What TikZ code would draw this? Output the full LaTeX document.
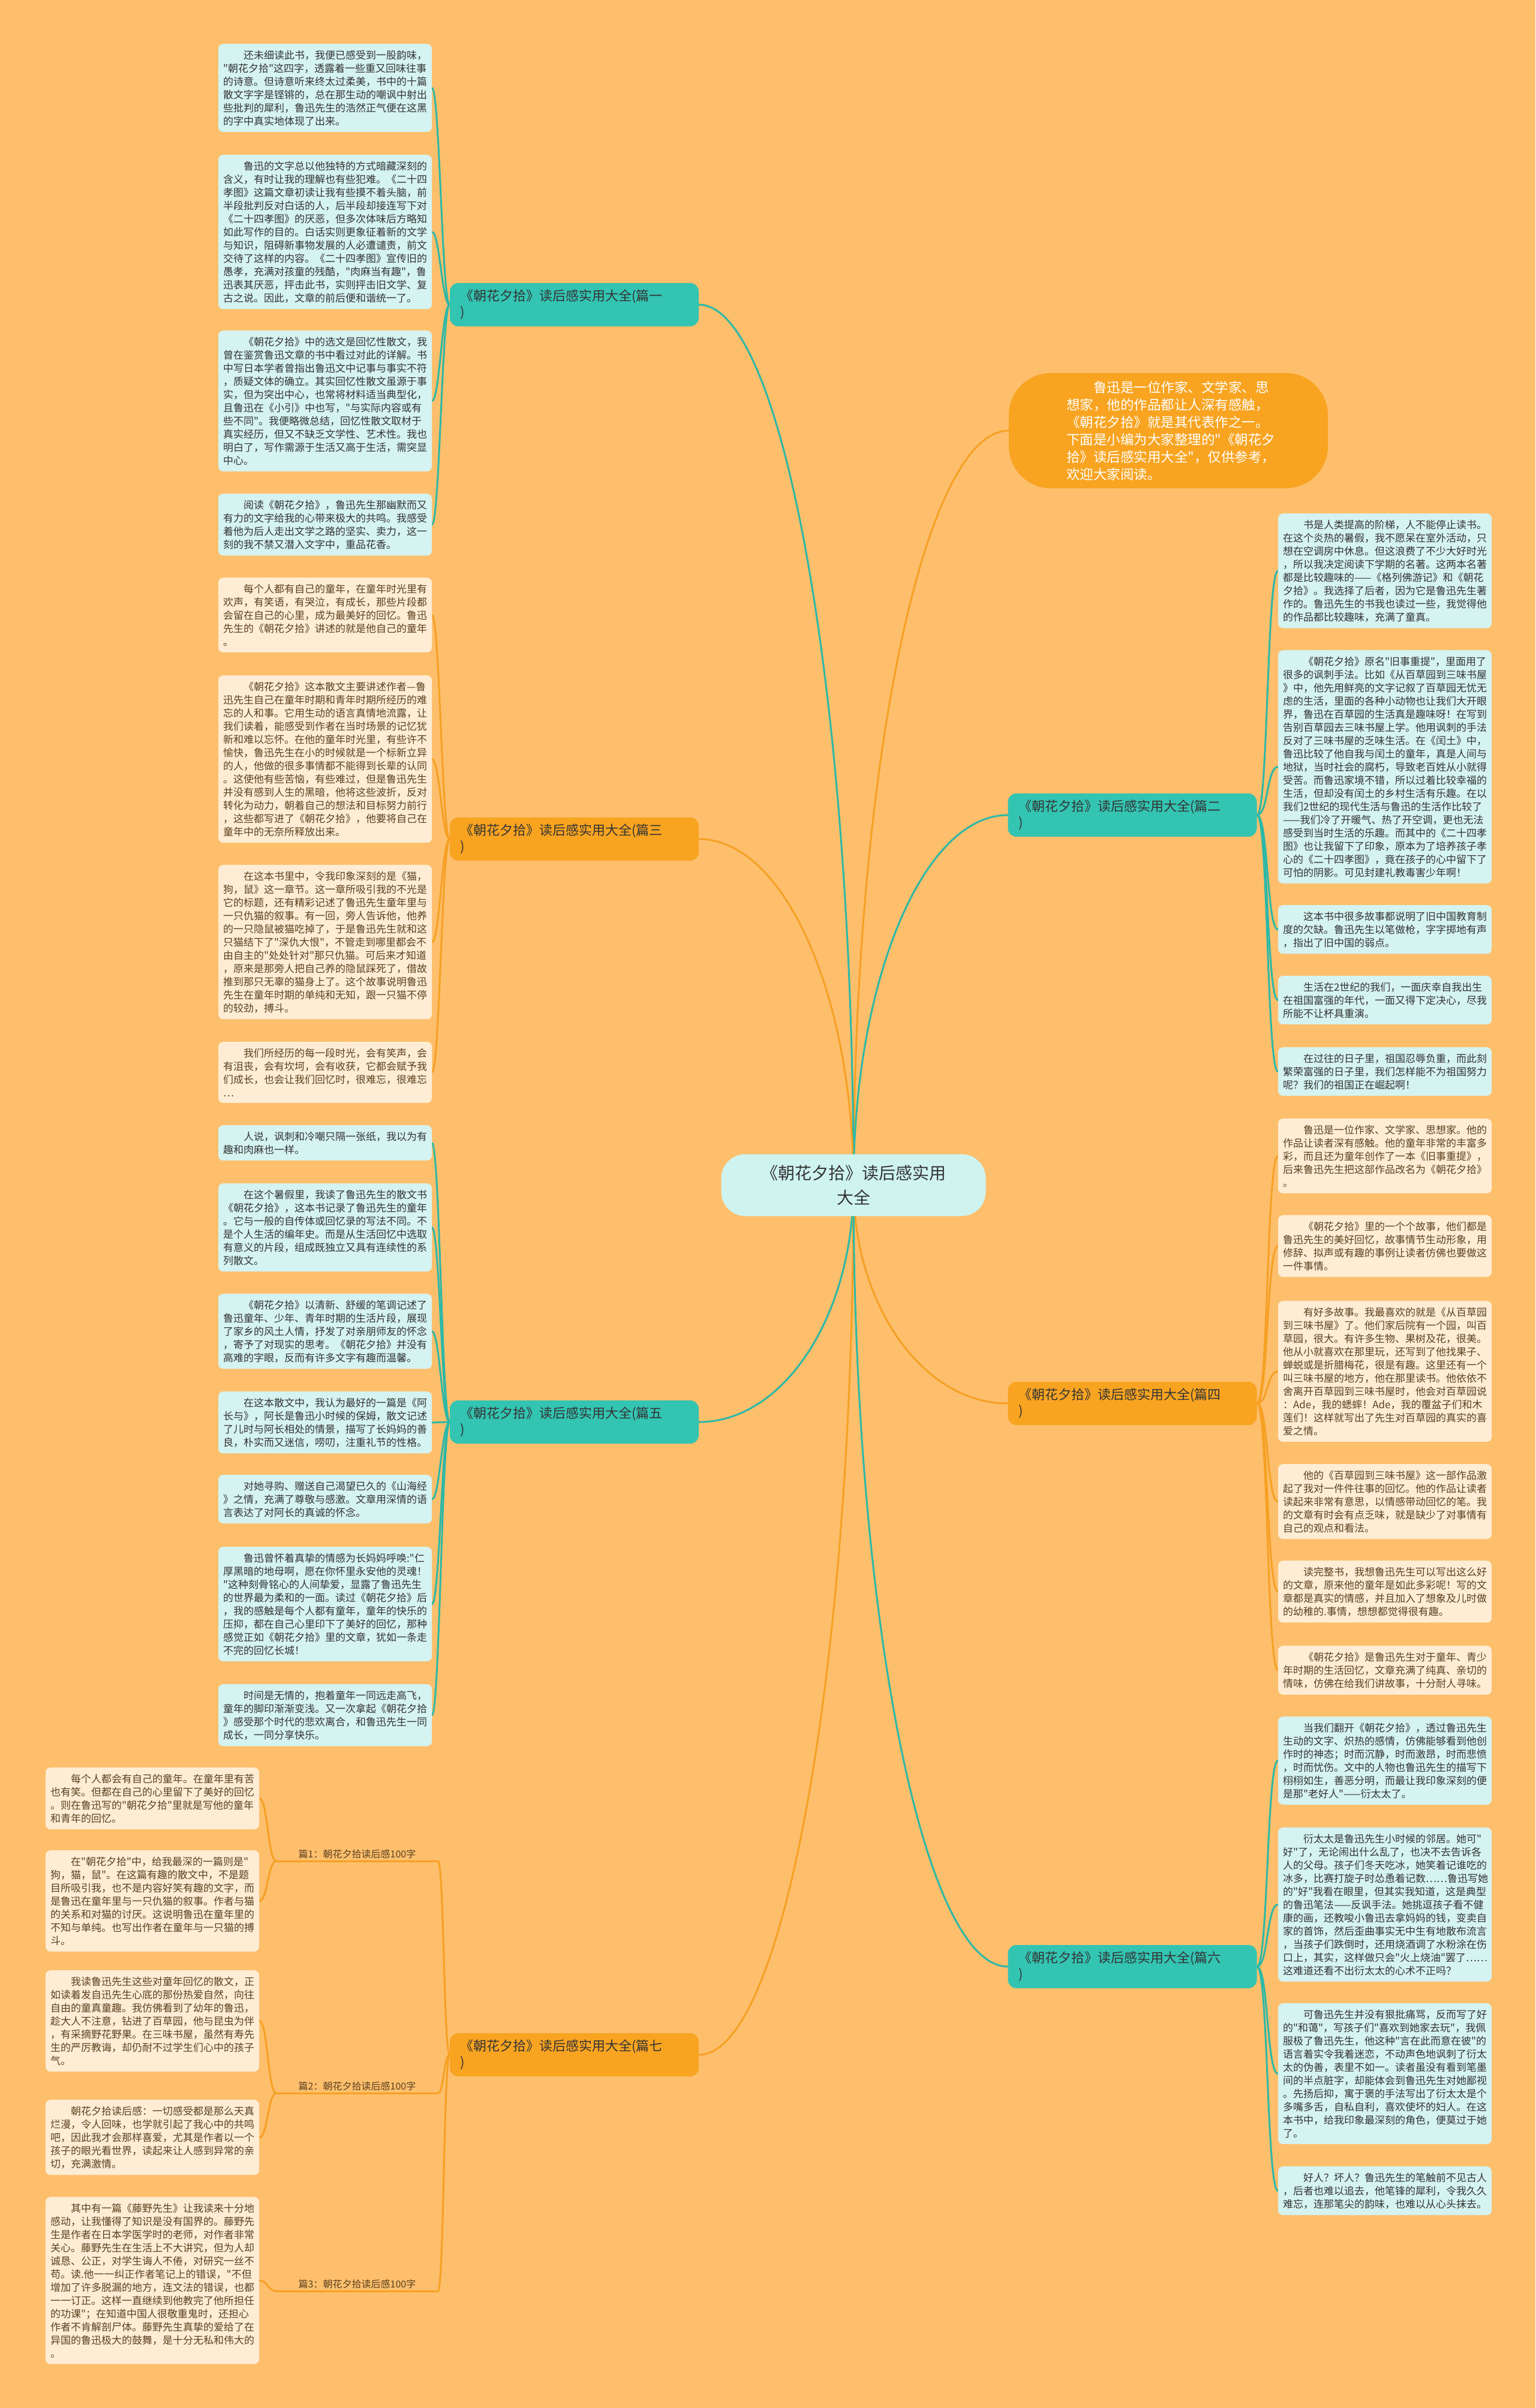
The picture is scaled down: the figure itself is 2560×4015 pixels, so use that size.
\documentclass[tikz,border=0pt]{standalone}
\usepackage{fontspec}
\setmainfont{Noto Sans CJK SC}[Ligatures=TeXOff]
\usetikzlibrary{calc}
\definecolor{paper}{HTML}{FDBF6C}
\definecolor{tealtopic}{HTML}{33C4B2}
\definecolor{orangetopic}{HTML}{F8A421}
\definecolor{tealfill}{HTML}{D5F3F1}
\definecolor{creamfill}{HTML}{FEEDD4}
\definecolor{hubfill}{HTML}{CFF4F0}
\definecolor{tealline}{HTML}{2DB8A6}
\definecolor{orangeline}{HTML}{F6A023}
\definecolor{ink}{HTML}{333333}
\definecolor{brownink}{HTML}{5A4020}
\pgfdeclarelayer{canvas}
\pgfdeclarelayer{wires}
\pgfsetlayers{canvas,wires,main}
\tikzset{
  wire/.style={line width=3pt, line cap=round},
  tealwire/.style={wire, draw=tealline},
  orangewire/.style={wire, draw=orangeline},
  leaf/.style={
    rectangle,
    rounded corners=8pt,
    anchor=north,
    text width=340pt,
    align=left,
    inner xsep=8pt,
    inner ysep=10.5pt,
    font=\fontsize{17pt}{22pt}\selectfont
  },
  tealleaf/.style={leaf, fill=tealfill, text=ink},
  creamleaf/.style={leaf, fill=creamfill, text=brownink},
  topic/.style={
    rectangle,
    rounded corners=14pt,
    text width=380pt,
    align=left,
    inner xsep=17.5pt,
    inner ysep=11pt,
    font=\fontsize{22pt}{27pt}\selectfont,
    text=ink
  },
  tealtopic/.style={topic, fill=tealtopic},
  orangetopic/.style={topic, fill=orangetopic},
  hub/.style={
    rectangle,
    rounded corners=40pt,
    fill=hubfill,
    text=ink,
    align=center,
    minimum width=441pt,
    minimum height=103pt,
    font=\fontsize{28pt}{41pt}\selectfont
  },
  intro/.style={
    rectangle,
    rounded corners=70pt,
    fill=orangetopic,
    text=white,
    text width=340pt,
    align=left,
    minimum width=532pt,
    minimum height=192pt,
    font=\fontsize{22.5pt}{29pt}\selectfont
  },
  sublabel/.style={
    minimum width=269pt,
    inner ysep=4pt,
    text=brownink,
    font=\fontsize{16pt}{20pt}\selectfont
  }
}

\begin{document}
\begin{tikzpicture}[x=1pt,y=-1pt]

  \begin{pgfonlayer}{canvas}
    \fill[paper] (0,0) rectangle (2560,4015);
  \end{pgfonlayer}
  \useasboundingbox (0,0) rectangle (2560,4015);

  % ============================================================
  % Centre topic and the intro bubble
  % ============================================================
  \node[hub] (hub) at (1423, 1976)
    {《朝花夕拾》读后感实用\\大全};

  \node[intro] (intro) at (1948, 718)
    {\hspace*{2em}鲁迅是一位作家、文学家、思\\
     想家，他的作品都让人深有感触，\\
     《朝花夕拾》就是其代表作之一。\\
     下面是小编为大家整理的"《朝花夕\\
     拾》读后感实用大全"，仅供参考，\\
     欢迎大家阅读。};

  % ============================================================
  % Main branches (left: 1,3,5,7 -- right: 2,4,6)
  % ============================================================
  \node[tealtopic] (p1) at (957.5, 508) {《朝花夕拾》读后感实用大全(篇一\\)};
  \node[orangetopic] (p3) at (957.5, 1399) {《朝花夕拾》读后感实用大全(篇三\\)};
  \node[tealtopic] (p5) at (957.5, 2371) {《朝花夕拾》读后感实用大全(篇五\\)};
  \node[orangetopic] (p7) at (957.5, 3426) {《朝花夕拾》读后感实用大全(篇七\\)};
  \node[tealtopic] (p2) at (1888, 1359) {《朝花夕拾》读后感实用大全(篇二\\)};
  \node[orangetopic] (p4) at (1888, 2340) {《朝花夕拾》读后感实用大全(篇四\\)};
  \node[tealtopic] (p6) at (1888, 3279) {《朝花夕拾》读后感实用大全(篇六\\)};

  % ============================================================
  % 篇一 -- left column, teal
  % ============================================================
  \node[tealleaf] (a1) at (542, 73)
    {\hspace*{2em}还未细读此书，我便已感受到一股韵味，\\
     "朝花夕拾"这四字，透露着一些重又回味往事\\
     的诗意。但诗意听来终太过柔美，书中的十篇\\
     散文字字是铿锵的，总在那生动的嘲讽中射出\\
     些批判的犀利，鲁迅先生的浩然正气便在这黑\\
     的字中真实地体现了出来。};
  \node[tealleaf] (a2) at (542, 258)
    {\hspace*{2em}鲁迅的文字总以他独特的方式暗藏深刻的\\
     含义，有时让我的理解也有些犯难。《二十四\\
     孝图》这篇文章初读让我有些摸不着头脑，前\\
     半段批判反对白话的人，后半段却接连写下对\\
     《二十四孝图》的厌恶，但多次体味后方略知\\
     如此写作的目的。白话实则更象征着新的文学\\
     与知识，阻碍新事物发展的人必遭谴责，前文\\
     交待了这样的内容。《二十四孝图》宣传旧的\\
     愚孝，充满对孩童的残酷，"肉麻当有趣"，鲁\\
     迅表其厌恶，抨击此书，实则抨击旧文学、复\\
     古之说。因此，文章的前后便和谐统一了。};
  \node[tealleaf] (a3) at (542, 551)
    {\hspace*{2em}《朝花夕拾》中的选文是回忆性散文，我\\
     曾在鉴赏鲁迅文章的书中看过对此的详解。书\\
     中写日本学者曾指出鲁迅文中记事与事实不符\\
     ，质疑文体的确立。其实回忆性散文虽源于事\\
     实，但为突出中心，也常将材料适当典型化，\\
     且鲁迅在《小引》中也写，"与实际内容或有\\
     些不同"。我便略微总结，回忆性散文取材于\\
     真实经历，但又不缺乏文学性、艺术性。我也\\
     明白了，写作需源于生活又高于生活，需突显\\
     中心。};
  \node[tealleaf] (a4) at (542, 823)
    {\hspace*{2em}阅读《朝花夕拾》，鲁迅先生那幽默而又\\
     有力的文字给我的心带来极大的共鸣。我感受\\
     着他为后人走出文学之路的坚实、卖力，这一\\
     刻的我不禁又潜入文字中，重品花香。};

  % ============================================================
  % 篇三 -- left column, cream
  % ============================================================
  \node[creamleaf] (c1) at (542, 963)
    {\hspace*{2em}每个人都有自己的童年，在童年时光里有\\
     欢声，有笑语，有哭泣，有成长，那些片段都\\
     会留在自己的心里，成为最美好的回忆。鲁迅\\
     先生的《朝花夕拾》讲述的就是他自己的童年\\
     。};
  \node[creamleaf] (c2) at (542, 1126)
    {\hspace*{2em}《朝花夕拾》这本散文主要讲述作者—鲁\\
     迅先生自己在童年时期和青年时期所经历的难\\
     忘的人和事。它用生动的语言真情地流露，让\\
     我们读着，能感受到作者在当时场景的记忆犹\\
     新和难以忘怀。在他的童年时光里，有些许不\\
     愉快，鲁迅先生在小的时候就是一个标新立异\\
     的人，他做的很多事情都不能得到长辈的认同\\
     。这使他有些苦恼，有些难过，但是鲁迅先生\\
     并没有感到人生的黑暗，他将这些波折，反对\\
     转化为动力，朝着自己的想法和目标努力前行\\
     ，这些都写进了《朝花夕拾》，他要将自己在\\
     童年中的无奈所释放出来。};
  \node[creamleaf] (c3) at (542, 1442)
    {\hspace*{2em}在这本书里中，令我印象深刻的是《猫，\\
     狗，鼠》这一章节。这一章所吸引我的不光是\\
     它的标题，还有精彩记述了鲁迅先生童年里与\\
     一只仇猫的叙事。有一回，旁人告诉他，他养\\
     的一只隐鼠被猫吃掉了，于是鲁迅先生就和这\\
     只猫结下了"深仇大恨"，不管走到哪里都会不\\
     由自主的"处处针对"那只仇猫。可后来才知道\\
     ，原来是那旁人把自己养的隐鼠踩死了，借故\\
     推到那只无辜的猫身上了。这个故事说明鲁迅\\
     先生在童年时期的单纯和无知，跟一只猫不停\\
     的较劲，搏斗。};
  \node[creamleaf] (c4) at (542, 1737)
    {\hspace*{2em}我们所经历的每一段时光，会有笑声，会\\
     有沮丧，会有坎坷，会有收获，它都会赋予我\\
     们成长，也会让我们回忆时，很难忘，很难忘\\
     …};

  % ============================================================
  % 篇五 -- left column, teal
  % ============================================================
  \node[tealleaf] (e1) at (542, 1876)
    {\hspace*{2em}人说，讽刺和冷嘲只隔一张纸，我以为有\\
     趣和肉麻也一样。};
  \node[tealleaf] (e2) at (542, 1973)
    {\hspace*{2em}在这个暑假里，我读了鲁迅先生的散文书\\
     《朝花夕拾》，这本书记录了鲁迅先生的童年\\
     。它与一般的自传体或回忆录的写法不同。不\\
     是个人生活的编年史。而是从生活回忆中选取\\
     有意义的片段，组成既独立又具有连续性的系\\
     列散文。};
  \node[tealleaf] (e3) at (542, 2157)
    {\hspace*{2em}《朝花夕拾》以清新、舒缓的笔调记述了\\
     鲁迅童年、少年、青年时期的生活片段，展现\\
     了家乡的风土人情，抒发了对亲朋师友的怀念\\
     ，寄予了对现实的思考。《朝花夕拾》并没有\\
     高难的字眼，反而有许多文字有趣而温馨。};
  \node[tealleaf] (e4) at (542, 2320)
    {\hspace*{2em}在这本散文中，我认为最好的一篇是《阿\\
     长与》，阿长是鲁迅小时候的保姆，散文记述\\
     了儿时与阿长相处的情景，描写了长妈妈的善\\
     良，朴实而又迷信，唠叨，注重礼节的性格。};
  \node[tealleaf] (e5) at (542, 2459)
    {\hspace*{2em}对她寻购、赠送自己渴望已久的《山海经\\
     》之情，充满了尊敬与感激。文章用深情的语\\
     言表达了对阿长的真诚的怀念。};
  \node[tealleaf] (e6) at (542, 2579)
    {\hspace*{2em}鲁迅曾怀着真挚的情感为长妈妈呼唤:"仁\\
     厚黑暗的地母啊，愿在你怀里永安他的灵魂！\\
     "这种刻骨铭心的人间挚爱，显露了鲁迅先生\\
     的世界最为柔和的一面。读过《朝花夕拾》后\\
     ，我的感触是每个人都有童年，童年的快乐的\\
     压抑，都在自己心里印下了美好的回忆，那种\\
     感觉正如《朝花夕拾》里的文章，犹如一条走\\
     不完的回忆长城！};
  \node[tealleaf] (e7) at (542, 2808)
    {\hspace*{2em}时间是无情的，抱着童年一同远走高飞，\\
     童年的脚印渐渐变浅。又一次拿起《朝花夕拾\\
     》感受那个时代的悲欢离合，和鲁迅先生一同\\
     成长，一同分享快乐。};

  % ============================================================
  % 篇七 -- three sub labels, then cream leaves on the far left
  % ============================================================
  \node[sublabel, anchor=south] (k1) at (595.5, 3103) {篇1：朝花夕拾读后感100字};
  \node[sublabel, anchor=south] (k2) at (595.5, 3490) {篇2：朝花夕拾读后感100字};
  \node[sublabel, anchor=south] (k3) at (595.5, 3820) {篇3：朝花夕拾读后感100字};

  \node[creamleaf] (g1) at (254, 2947)
    {\hspace*{2em}每个人都会有自己的童年。在童年里有苦\\
     也有笑。但都在自己的心里留下了美好的回忆\\
     。则在鲁迅写的"朝花夕拾"里就是写他的童年\\
     和青年的回忆。};
  \node[creamleaf] (g2) at (254, 3085)
    {\hspace*{2em}在"朝花夕拾"中，给我最深的一篇则是"\\
     狗，猫，鼠"。在这篇有趣的散文中，不是题\\
     目所吸引我，也不是内容好笑有趣的文字，而\\
     是鲁迅在童年里与一只仇猫的叙事。作者与猫\\
     的关系和对猫的讨厌。这说明鲁迅在童年里的\\
     不知与单纯。也写出作者在童年与一只猫的搏\\
     斗。};
  \node[creamleaf] (g3) at (254, 3285)
    {\hspace*{2em}我读鲁迅先生这些对童年回忆的散文，正\\
     如读着发自迅先生心底的那份热爱自然，向往\\
     自由的童真童趣。我仿佛看到了幼年的鲁迅，\\
     趁大人不注意，钻进了百草园，他与昆虫为伴\\
     ，有采摘野花野果。在三味书屋，虽然有寿先\\
     生的严厉教诲，却仍耐不过学生们心中的孩子\\
     气。};
  \node[creamleaf] (g4) at (254, 3501)
    {\hspace*{2em}朝花夕拾读后感：一切感受都是那么天真\\
     烂漫，令人回味，也学就引起了我心中的共鸣\\
     吧，因此我才会那样喜爱，尤其是作者以一个\\
     孩子的眼光看世界，读起来让人感到异常的亲\\
     切，充满激情。};
  \node[creamleaf] (g5) at (254, 3663)
    {\hspace*{2em}其中有一篇《藤野先生》让我读来十分地\\
     感动，让我懂得了知识是没有国界的。藤野先\\
     生是作者在日本学医学时的老师，对作者非常\\
     关心。藤野先生在生活上不大讲究，但为人却\\
     诚恳、公正，对学生诲人不倦，对研究一丝不\\
     苟。读.他一一纠正作者笔记上的错误，"不但\\
     增加了许多脱漏的地方，连文法的错误，也都\\
     一一订正。这样一直继续到他教完了他所担任\\
     的功课"；在知道中国人很敬重鬼时，还担心\\
     作者不肯解剖尸体。藤野先生真挚的爱给了在\\
     异国的鲁迅极大的鼓舞，是十分无私和伟大的\\
     。};

  % ============================================================
  % 篇二 -- right column, teal
  % ============================================================
  \node[tealleaf] (b1) at (2309, 856)
    {\hspace*{2em}书是人类提高的阶梯，人不能停止读书。\\
     在这个炎热的暑假，我不愿呆在室外活动，只\\
     想在空调房中休息。但这浪费了不少大好时光\\
     ，所以我决定阅读下学期的名著。这两本名著\\
     都是比较趣味的——《格列佛游记》和《朝花\\
     夕拾》。我选择了后者，因为它是鲁迅先生著\\
     作的。鲁迅先生的书我也读过一些，我觉得他\\
     的作品都比较趣味，充满了童真。};
  \node[tealleaf] (b2) at (2309, 1084)
    {\hspace*{2em}《朝花夕拾》原名"旧事重提"，里面用了\\
     很多的讽刺手法。比如《从百草园到三味书屋\\
     》中，他先用鲜亮的文字记叙了百草园无忧无\\
     虑的生活，里面的各种小动物也让我们大开眼\\
     界，鲁迅在百草园的生活真是趣味呀！在写到\\
     告别百草园去三味书屋上学。他用讽刺的手法\\
     反对了三味书屋的乏味生活。在《闰土》中，\\
     鲁迅比较了他自我与闰土的童年，真是人间与\\
     地狱，当时社会的腐朽，导致老百姓从小就得\\
     受苦。而鲁迅家境不错，所以过着比较幸福的\\
     生活，但却没有闰土的乡村生活有乐趣。在以\\
     我们2世纪的现代生活与鲁迅的生活作比较了\\
     ——我们冷了开暖气、热了开空调，更也无法\\
     感受到当时生活的乐趣。而其中的《二十四孝\\
     图》也让我留下了印象，原本为了培养孩子孝\\
     心的《二十四孝图》，竟在孩子的心中留下了\\
     可怕的阴影。可见封建礼教毒害少年啊！};
  \node[tealleaf] (b3) at (2309, 1509)
    {\hspace*{2em}这本书中很多故事都说明了旧中国教育制\\
     度的欠缺。鲁迅先生以笔做枪，字字掷地有声\\
     ，指出了旧中国的弱点。};
  \node[tealleaf] (b4) at (2309, 1627)
    {\hspace*{2em}生活在2世纪的我们，一面庆幸自我出生\\
     在祖国富强的年代，一面又得下定决心，尽我\\
     所能不让杯具重演。};
  \node[tealleaf] (b5) at (2309, 1746)
    {\hspace*{2em}在过往的日子里，祖国忍辱负重，而此刻\\
     繁荣富强的日子里，我们怎样能不为祖国努力\\
     呢？我们的祖国正在崛起啊！};

  % ============================================================
  % 篇四 -- right column, cream
  % ============================================================
  \node[creamleaf] (d1) at (2309, 1865)
    {\hspace*{2em}鲁迅是一位作家、文学家、思想家。他的\\
     作品让读者深有感触。他的童年非常的丰富多\\
     彩，而且还为童年创作了一本《旧事重提》，\\
     后来鲁迅先生把这部作品改名为《朝花夕拾》\\
     。};
  \node[creamleaf] (d2) at (2309, 2026)
    {\hspace*{2em}《朝花夕拾》里的一个个故事，他们都是\\
     鲁迅先生的美好回忆，故事情节生动形象，用\\
     修辞、拟声或有趣的事例让读者仿佛也要做这\\
     一件事情。};
  \node[creamleaf] (d3) at (2309, 2169)
    {\hspace*{2em}有好多故事。我最喜欢的就是《从百草园\\
     到三味书屋》了。他们家后院有一个园，叫百\\
     草园，很大。有许多生物、果树及花，很美。\\
     他从小就喜欢在那里玩，还写到了他找果子、\\
     蝉蜕或是折腊梅花，很是有趣。这里还有一个\\
     叫三味书屋的地方，他在那里读书。他依依不\\
     舍离开百草园到三味书屋时，他会对百草园说\\
     ：Ade，我的蟋蟀！Ade，我的覆盆子们和木\\
     莲们！这样就写出了先生对百草园的真实的喜\\
     爱之情。};
  \node[creamleaf] (d4) at (2309, 2441)
    {\hspace*{2em}他的《百草园到三味书屋》这一部作品激\\
     起了我对一件件往事的回忆。他的作品让读者\\
     读起来非常有意思，以情感带动回忆的笔。我\\
     的文章有时会有点乏味，就是缺少了对事情有\\
     自己的观点和看法。};
  \node[creamleaf] (d5) at (2309, 2602)
    {\hspace*{2em}读完整书，我想鲁迅先生可以写出这么好\\
     的文章，原来他的童年是如此多彩呢！写的文\\
     章都是真实的情感，并且加入了想象及儿时做\\
     的幼稚的.事情，想想都觉得很有趣。};
  \node[creamleaf] (d6) at (2309, 2744)
    {\hspace*{2em}《朝花夕拾》是鲁迅先生对于童年、青少\\
     年时期的生活回忆，文章充满了纯真、亲切的\\
     情味，仿佛在给我们讲故事，十分耐人寻味。};

  % ============================================================
  % 篇六 -- right column, teal
  % ============================================================
  \node[tealleaf] (f1) at (2309, 2862)
    {\hspace*{2em}当我们翻开《朝花夕拾》，透过鲁迅先生\\
     生动的文字、炽热的感情，仿佛能够看到他创\\
     作时的神态；时而沉静，时而激昂，时而悲愤\\
     ，时而忧伤。文中的人物也鲁迅先生的描写下\\
     栩栩如生，善恶分明，而最让我印象深刻的便\\
     是那"老好人"——衍太太了。};
  \node[tealleaf] (f2) at (2309, 3047)
    {\hspace*{2em}衍太太是鲁迅先生小时候的邻居。她可"\\
     好"了，无论闹出什么乱了，也决不去告诉各\\
     人的父母。孩子们冬天吃冰，她笑着记谁吃的\\
     冰多，比赛打旋子时怂恿着记数……鲁迅写她\\
     的"好"我看在眼里，但其实我知道，这是典型\\
     的鲁迅笔法——反讽手法。她挑逗孩子看不健\\
     康的画，还教唆小鲁迅去拿妈妈的钱，变卖自\\
     家的首饰，然后歪曲事实无中生有地散布流言\\
     ，当孩子们跌倒时，还用烧酒调了水粉涂在伤\\
     口上，其实，这样做只会"火上烧油"罢了……\\
     这难道还看不出衍太太的心术不正吗？};
  \node[tealleaf] (f3) at (2309, 3340)
    {\hspace*{2em}可鲁迅先生并没有狠批痛骂，反而写了好\\
     的"和蔼"，写孩子们"喜欢到她家去玩"，我佩\\
     服极了鲁迅先生，他这种"言在此而意在彼"的\\
     语言着实令我着迷恋，不动声色地讽刺了衍太\\
     太的伪善，表里不如一。读者虽没有看到笔墨\\
     间的半点脏字，却能体会到鲁迅先生对她鄙视\\
     。先扬后抑，寓于褒的手法写出了衍太太是个\\
     多嘴多舌，自私自利，喜欢使坏的妇人。在这\\
     本书中，给我印象最深刻的角色，便莫过于她\\
     了。};
  \node[tealleaf] (f4) at (2309, 3612)
    {\hspace*{2em}好人？坏人？鲁迅先生的笔触前不见古人\\
     ，后者也难以追去，他笔锋的犀利，令我久久\\
     难忘，连那笔尖的韵味，也难以从心头抹去。};

  % ============================================================
  % Connectors (behind the nodes)
  % ============================================================
  \begin{pgfonlayer}{wires}
    % hub -> branches: vertical out of the hub, horizontal into the branch
    \draw[orangewire] (hub.center)
      .. controls ($(hub.center)!0.55!(hub.center |- intro.west)$)
             and ($(intro.west)!0.55!(hub.center |- intro.west)$) .. (intro.west);
    \foreach \p/\c in {p1/tealwire, p3/orangewire, p5/tealwire, p7/orangewire}
      \draw[\c] (hub.center)
        .. controls ($(hub.center)!0.55!(hub.center |- \p.east)$)
               and ($(\p.east)!0.55!(hub.center |- \p.east)$) .. (\p.east);
    \foreach \p/\c in {p2/tealwire, p4/orangewire, p6/tealwire}
      \draw[\c] (hub.center)
        .. controls ($(hub.center)!0.55!(hub.center |- \p.west)$)
               and ($(\p.west)!0.55!(hub.center |- \p.west)$) .. (\p.west);

    % left branches -> leaves
    \foreach \n in {1,...,4}
      \draw[tealwire] (p1.west) .. controls +(-13,0) and +(13,0) .. (a\n.east);
    \foreach \n in {1,...,4}
      \draw[orangewire] (p3.west) .. controls +(-13,0) and +(13,0) .. (c\n.east);
    \foreach \n in {1,...,7}
      \draw[tealwire] (p5.west) .. controls +(-13,0) and +(13,0) .. (e\n.east);

    % 篇七 -> sub labels -> leaves
    \foreach \n in {1,2,3} {
      \draw[orangewire] (p7.west) .. controls +(-10,0) and +(10,0) .. (k\n.south east);
      \draw[orangewire] (k\n.south west) -- (k\n.south east);
    }
    \draw[orangewire] (k1.south west) .. controls +(-14.5,0) and +(14.5,0) .. (g1.east);
    \draw[orangewire] (k1.south west) .. controls +(-14.5,0) and +(14.5,0) .. (g2.east);
    \draw[orangewire] (k2.south west) .. controls +(-14.5,0) and +(14.5,0) .. (g3.east);
    \draw[orangewire] (k2.south west) .. controls +(-14.5,0) and +(14.5,0) .. (g4.east);
    \draw[orangewire] (k3.south west) .. controls +(-14.5,0) and +(14.5,0) .. (g5.east);

    % right branches -> leaves
    \foreach \n in {1,...,5}
      \draw[tealwire] (p2.east) .. controls +(19,0) and +(-19,0) .. (b\n.west);
    \foreach \n in {1,...,6}
      \draw[orangewire] (p4.east) .. controls +(19,0) and +(-19,0) .. (d\n.west);
    \foreach \n in {1,...,4}
      \draw[tealwire] (p6.east) .. controls +(19,0) and +(-19,0) .. (f\n.west);
  \end{pgfonlayer}

\end{tikzpicture}
\end{document}
